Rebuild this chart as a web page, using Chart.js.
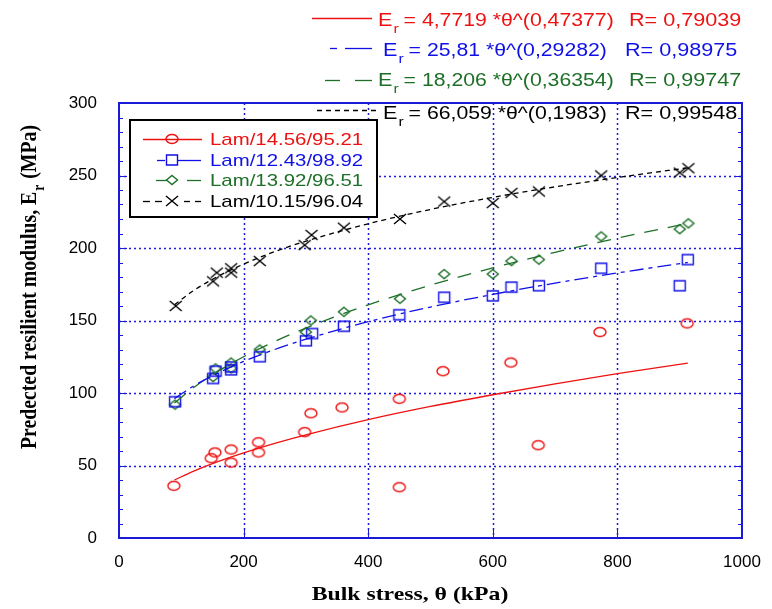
<!DOCTYPE html>
<html lang="en">
<head>
    <meta charset="UTF-8">
    <title>Resilient modulus vs bulk stress</title>
    <style>
        body { margin: 0; background: #fff; }
        #chart { display: block; }
    </style>
</head>
<body>
    <canvas id="chart" width="772" height="609"></canvas>

    <script src="https://cdn.jsdelivr.net/npm/chart.js"></script>
    <script>
        // measured points (bulk stress kPa, modulus MPa)
        const redX = [88, 148, 154, 180, 180, 224, 224, 298, 308, 358, 450, 450, 520, 629, 673, 772, 912];
        const redY = [36, 55, 59, 61, 52, 66, 59, 73, 86, 90, 96, 35, 115, 121, 64, 142, 148];
        const blueX = [90, 151, 155, 180, 180, 226, 300, 310, 361, 450, 522, 600, 630, 674, 774, 900, 913];
        const blueY = [94, 110, 115, 118, 116, 125, 136, 141, 146, 154, 166, 167, 173, 174, 186, 174, 192];
        const greenX = [90, 151, 155, 180, 180, 226, 300, 308, 361, 451, 522, 600, 630, 674, 774, 900, 914];
        const greenY = [92, 111, 117, 121, 117, 130, 142, 150, 156, 165, 182, 182, 191, 192, 208, 213, 217];
        const blackX = [91, 151, 157, 180, 180, 226, 298, 309, 361, 451, 522, 600, 630, 674, 774, 900, 914];
        const blackY = [160, 177, 183, 186, 183, 191, 202, 209, 214, 220, 232, 231, 238, 239, 250, 252, 255];

        // fitted curves
        const fitX = [89, 120, 150, 200, 250, 300, 400, 500, 600, 700, 800, 913];
        const fitRed = [40.0, 46.1, 51.3, 58.7, 65.3, 71.2, 81.6, 90.7, 98.8, 106.3, 113.3, 120.6];
        const fitBlue = [96.1, 104.9, 111.9, 121.8, 130.0, 137.1, 149.2, 159.3, 168.0, 175.8, 182.8, 190.0];
        const fitGreen = [93.1, 103.8, 112.6, 125.0, 135.5, 144.8, 160.8, 174.4, 186.3, 197.0, 206.8, 217.0];
        const fitBlack = [160.9, 170.7, 178.4, 188.9, 197.5, 204.7, 216.7, 226.6, 234.9, 242.2, 248.6, 255.3];

        const seriesNames = ['Lam/14.56/95.21', 'Lam/12.43/98.92', 'Lam/13.92/96.51', 'Lam/10.15/96.04'];
        const eqTexts = ['= 4,7719 *\u03b8^(0,47377)', '= 25,81 *\u03b8^(0,29282)', '= 18,206 *\u03b8^(0,36354)', '= 66,059 *\u03b8^(0,1983)'];
        const rTexts = ['R= 0,79039', 'R= 0,98975', 'R= 0,99747', 'R= 0,99548'];
        const xTicks = [0, 200, 400, 600, 800, 1000];
        const yTicks = [0, 50, 100, 150, 200, 250, 300];

        const RED = '#ee1111', BLUE = '#1010e6', GREEN = '#1e7028', BLACK = '#000000';
        const GRIDBLUE = '#1a1ad8';

        function pts(xs, ys) { return xs.map((x, i) => ({ x: x, y: ys[i] })); }

        // marker images (slightly wider than tall like the source)
        function marker(kind, color) {
            const c = document.createElement('canvas');
            c.width = 16; c.height = 14;
            const g = c.getContext('2d');
            g.strokeStyle = color; g.lineWidth = 1.4;
            g.beginPath();
            if (kind === 'ellipse') {
                g.ellipse(8, 7, 6, 4.5, 0, 0, Math.PI * 2);
            } else if (kind === 'square') {
                g.rect(2.5, 2, 11, 10);
            } else if (kind === 'diamond') {
                g.moveTo(8, 2.5); g.lineTo(13.5, 7); g.lineTo(8, 11.5); g.lineTo(2.5, 7); g.closePath();
            } else {
                g.moveTo(2, 2); g.lineTo(14, 12); g.moveTo(14, 2); g.lineTo(2, 12);
            }
            g.stroke();
            return c;
        }
        const mRed = marker('ellipse', RED), mBlue = marker('square', BLUE),
              mGreen = marker('diamond', GREEN), mBlack = marker('cross', BLACK);

        function fitSet(ys, color, dash) {
            return {
                data: pts(fitX, ys), showLine: true, pointRadius: 0, borderColor: color,
                borderWidth: 1.3, borderDash: dash, cubicInterpolationMode: 'monotone', fill: false
            };
        }
        function markSet(xs, ys, img) {
            return { data: pts(xs, ys), showLine: false, pointStyle: img, pointRadius: 7, borderWidth: 0 };
        }

        // stretched text helper (source text is wider than normal)
        function sText(ctx, txt, x, y, sx) {
            ctx.save();
            ctx.translate(x, y);
            ctx.scale(sx, 1);
            ctx.fillText(txt, 0, 0);
            const w = ctx.measureText(txt).width * sx;
            ctx.restore();
            return w;
        }

        const decorPlugin = {
            id: 'decor',
            beforeDatasetsDraw(chart) {
                const ctx = chart.ctx, a = chart.chartArea;
                const xs = chart.scales.x, ys = chart.scales.y;
                ctx.save();
                // dotted grid
                ctx.strokeStyle = GRIDBLUE; ctx.lineWidth = 1.5; ctx.setLineDash([2, 3]);
                xTicks.slice(1, -1).forEach(v => {
                    const px = Math.round(xs.getPixelForValue(v)) + 0.5;
                    ctx.beginPath(); ctx.moveTo(px, a.top); ctx.lineTo(px, a.bottom); ctx.stroke();
                });
                yTicks.slice(1, -1).forEach(v => {
                    const py = Math.round(ys.getPixelForValue(v)) + 0.5;
                    ctx.beginPath(); ctx.moveTo(a.left, py); ctx.lineTo(a.right, py); ctx.stroke();
                });
                ctx.setLineDash([]);
                // minor ticks on left / right
                ctx.lineWidth = 1;
                for (let v = 10; v < 300; v += 10) {
                    const py = Math.round(ys.getPixelForValue(v)) + 0.5;
                    const len = v % 50 === 0 ? 8 : 4;
                    ctx.beginPath();
                    ctx.moveTo(a.left, py); ctx.lineTo(a.left + len, py);
                    ctx.moveTo(a.right, py); ctx.lineTo(a.right - len, py);
                    ctx.stroke();
                }
                xTicks.slice(1, -1).forEach(v => {
                    const px = Math.round(xs.getPixelForValue(v)) + 0.5;
                    ctx.beginPath(); ctx.moveTo(px, a.bottom); ctx.lineTo(px, a.bottom - 8); ctx.stroke();
                });
                // frame
                ctx.lineWidth = 2;
                ctx.strokeRect(a.left, a.top, a.right - a.left, a.bottom - a.top);
                ctx.restore();
            },
            afterDraw(chart) {
                const ctx = chart.ctx;
                ctx.save();
                ctx.textBaseline = 'alphabetic';

                // fit equations above the plot
                const eqRows = [
                    { color: RED, y: 18, base: 26, x0: 378, rx: 629, segs: [[312, 372]], dash: [] },
                    { color: BLUE, y: 48, base: 56, x0: 383, rx: 625, segs: [[330, 337], [345, 372]], dash: [] },
                    { color: GREEN, y: 80, base: 86, x0: 378, rx: 629, segs: [[325, 340], [355, 372]], dash: [] },
                    { color: BLACK, y: 110, base: 119, x0: 383, rx: 625, segs: [[317, 380]], dash: [5, 4] }
                ];
                eqRows.forEach((r, i) => {
                    ctx.strokeStyle = r.color; ctx.fillStyle = r.color; ctx.lineWidth = 1.3;
                    ctx.setLineDash(r.dash);
                    r.segs.forEach(s => {
                        ctx.beginPath(); ctx.moveTo(s[0], r.y + 0.5); ctx.lineTo(s[1], r.y + 0.5); ctx.stroke();
                    });
                    ctx.setLineDash([]);
                    ctx.font = '18px "Liberation Sans", Arial, sans-serif';
                    let x = r.x0;
                    x += sText(ctx, 'E', x, r.base, 1.2);
                    ctx.font = '13px "Liberation Sans", Arial, sans-serif';
                    x += sText(ctx, 'r', x + 1, r.base + 7, 1.2) + 6;
                    ctx.font = '18px "Liberation Sans", Arial, sans-serif';
                    sText(ctx, eqTexts[i], x, r.base, 1.18);
                    sText(ctx, rTexts[i], r.rx, r.base, 1.2);
                });

                // legend box
                ctx.fillStyle = '#fff';
                ctx.fillRect(130, 120, 247, 97);
                ctx.strokeStyle = '#000'; ctx.lineWidth = 2;
                ctx.strokeRect(130, 120, 247, 97);
                const legRows = [
                    { color: RED, img: mRed, segs: [[143, 202]] },
                    { color: BLUE, img: mBlue, segs: [[157, 165], [178, 201]] },
                    { color: GREEN, img: mGreen, segs: [[156, 167], [187, 201]] },
                    { color: BLACK, img: mBlack, segs: [[143, 150], [155, 162], [184, 190], [195, 201]] }
                ];
                const rowY = [139, 160, 180, 201];
                legRows.forEach((r, i) => {
                    const y = rowY[i];
                    ctx.strokeStyle = r.color; ctx.lineWidth = 1.3;
                    r.segs.forEach(s => {
                        ctx.beginPath(); ctx.moveTo(s[0], y + 0.5); ctx.lineTo(s[1], y + 0.5); ctx.stroke();
                    });
                    ctx.drawImage(r.img, 172 - 8, y - 7);
                    ctx.fillStyle = r.color;
                    ctx.font = '17px "Liberation Sans", Arial, sans-serif';
                    sText(ctx, seriesNames[i], 210, y + 6, 1.2);
                });

                // axis titles
                ctx.fillStyle = '#000';
                ctx.font = 'bold 19px "Liberation Serif", "Times New Roman", serif';
                ctx.textAlign = 'center';
                ctx.save();
                ctx.translate(410, 600);
                ctx.scale(1.25, 1);
                ctx.fillText('Bulk stress, \u03b8 (kPa)', 0, 0);
                ctx.restore();

                ctx.save();
                ctx.translate(36, 287);
                ctx.rotate(-Math.PI / 2);
                ctx.scale(1.04, 1.25);
                ctx.textAlign = 'left';
                const main = 'Predected resilient modulus, E';
                ctx.font = 'bold 19px "Liberation Serif", "Times New Roman", serif';
                const w1 = ctx.measureText(main).width;
                ctx.font = 'bold 13px "Liberation Serif", "Times New Roman", serif';
                const w2 = ctx.measureText('r').width;
                ctx.font = 'bold 19px "Liberation Serif", "Times New Roman", serif';
                const w3 = ctx.measureText(' (MPa)').width;
                let sx = -(w1 + w2 + w3 + 2) / 2;
                ctx.fillText(main, sx, 0);
                ctx.font = 'bold 13px "Liberation Serif", "Times New Roman", serif';
                ctx.fillText('r', sx + w1 + 1, 6);
                ctx.font = 'bold 19px "Liberation Serif", "Times New Roman", serif';
                ctx.fillText(' (MPa)', sx + w1 + w2 + 2, 0);
                ctx.restore();

                ctx.restore();
            }
        };

        new Chart(document.getElementById('chart').getContext('2d'), {
            type: 'scatter',
            data: {
                datasets: [
                    fitSet(fitRed, RED, []),
                    fitSet(fitBlue, BLUE, [14, 5, 4, 5]),
                    fitSet(fitGreen, GREEN, [14, 10]),
                    fitSet(fitBlack, BLACK, [5, 4]),
                    markSet(redX, redY, mRed),
                    markSet(blueX, blueY, mBlue),
                    markSet(greenX, greenY, mGreen),
                    markSet(blackX, blackY, mBlack)
                ]
            },
            options: {
                responsive: false,
                animation: false,
                layout: { padding: { left: 0, right: 30, top: 103, bottom: 0 } },
                plugins: { legend: { display: false }, tooltip: { enabled: false } },
                scales: {
                    x: {
                        type: 'linear', min: 0, max: 1000,
                        afterBuildTicks: s => { s.ticks = xTicks.map(v => ({ value: v })); },
                        afterFit: s => { s.height = 71; s.paddingLeft = 0; s.paddingRight = 0; },
                        grid: { display: false, drawTicks: false, tickLength: 0 },
                        border: { display: false },
                        ticks: {
                            color: '#000', padding: 14, callback: v => String(v),
                            font: { family: '"Liberation Sans", Arial, sans-serif', size: 17 }
                        }
                    },
                    y: {
                        type: 'linear', min: 0, max: 300,
                        afterBuildTicks: s => { s.ticks = yTicks.map(v => ({ value: v })); },
                        afterFit: s => { s.width = 119; s.paddingTop = 0; s.paddingBottom = 0; },
                        grid: { display: false, drawTicks: false, tickLength: 0 },
                        border: { display: false },
                        ticks: {
                            color: '#000', padding: 22, callback: v => String(v),
                            font: { family: '"Liberation Sans", Arial, sans-serif', size: 17 }
                        }
                    }
                }
            },
            plugins: [decorPlugin]
        });
    </script>
</body>
</html>
